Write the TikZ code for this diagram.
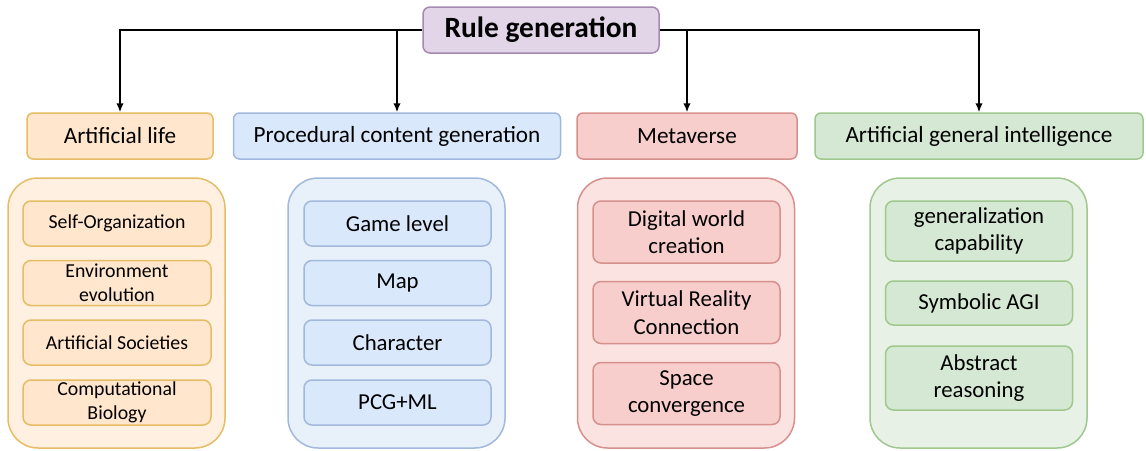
\documentclass[tikz,border=0pt]{standalone}
\usepackage{fontspec}
\setmainfont{Carlito}
\usepackage{tikz}
\usetikzlibrary{positioning}
\usetikzlibrary{arrows.meta}
\tikzset{>={Latex[width=7.5pt,length=9pt]}}

\definecolor{rgfill}{HTML}{E1D5E7}
\definecolor{rgline}{HTML}{A48AB2}
\definecolor{alfill}{HTML}{FFE6CC}
\definecolor{alline}{HTML}{E6BD64}
\definecolor{alback}{HTML}{FFF0E1}
\definecolor{pcgfill}{HTML}{DAE8FC}
\definecolor{pcgline}{HTML}{A2B8DC}
\definecolor{pcgback}{HTML}{E8F0FA}
\definecolor{mvfill}{HTML}{F8CECC}
\definecolor{mvline}{HTML}{D6908E}
\definecolor{mvback}{HTML}{FBE3E2}
\definecolor{agifill}{HTML}{D5E8D4}
\definecolor{agiline}{HTML}{A0C88E}
\definecolor{agiback}{HTML}{E7F1E5}

\begin{document}
\begin{tikzpicture}[x=1pt, y=1pt,
    topnode/.style={rectangle, rounded corners=7pt, draw=rgline, fill=rgfill, line width=1.5pt, minimum width=236pt, minimum height=46pt, font=\fontsize{29.4}{33}\selectfont\bfseries},
    catnode/.style={rectangle, rounded corners=6pt, line width=1.5pt, minimum height=46pt, inner sep=0pt, font=\fontsize{23.2}{27}\selectfont},
    backnode/.style={rectangle, rounded corners=30pt, line width=1.5pt, minimum width=217pt, minimum height=270pt},
    itemnode/.style={rectangle, rounded corners=8pt, line width=1.5pt, minimum width=187pt, inner sep=0pt, align=center, font=\fontsize{22.8}{27.5}\selectfont},
    alitem/.style={itemnode, draw=alline, fill=alfill, minimum height=45pt, font=\fontsize{19.8}{23.5}\selectfont},
    pcgitem/.style={itemnode, draw=pcgline, fill=pcgfill, minimum height=45pt},
    mvitem/.style={itemnode, draw=mvline, fill=mvfill, minimum height=62pt},
    agiitem/.style={itemnode, draw=agiline, fill=agifill}]

    \useasboundingbox (0,0) rectangle (1146,-450);

    %Nodes
    \node[topnode](rule) at (541,-30){Rule generation};
    \node[catnode, draw=alline, fill=alfill, minimum width=186pt](al) at (120,-136){Artificial life};
    \node[catnode, draw=pcgline, fill=pcgfill, minimum width=327pt](pcg) at (397,-136){Procedural content generation};
    \node[catnode, draw=mvline, fill=mvfill, minimum width=220pt](mv) at (687,-136){Metaverse};
    \node[catnode, draw=agiline, fill=agifill, minimum width=328pt](agi) at (979,-136){Artificial general intelligence};

    %Groups
    \node[backnode, draw=alline, fill=alback](al_back) at (116.5,-313){};
    \node[backnode, draw=pcgline, fill=pcgback](pcg_back) at (396.5,-313){};
    \node[backnode, draw=mvline, fill=mvback](mv_back) at (686,-313){};
    \node[backnode, draw=agiline, fill=agiback](agi_back) at (978.5,-313){};

    \node[alitem, minimum width=188pt](al_org) at (117,-223.5){Self-Organization};
    \node[alitem, minimum width=188pt](al_env)[below=13pt of al_org]{Environment\\evolution};
    \node[alitem, minimum width=188pt](al_soc)[below=13pt of al_env]{Artificial Societies};
    \node[alitem, minimum width=188pt](al_bio)[below=13.5pt of al_soc]{Computational\\Biology};

    \node[pcgitem](pcg_level) at (397.5,-223.5){Game level};
    \node[pcgitem](pcg_map)[below=13pt of pcg_level]{Map};
    \node[pcgitem](pcg_char)[below=13pt of pcg_map]{Character};
    \node[pcgitem](pcg_ml)[below=13.5pt of pcg_char]{PCG+ML};

    \node[mvitem](mv_world) at (686.5,-232){Digital world\\creation};
    \node[mvitem](mv_vr)[below=17pt of mv_world]{Virtual Reality\\Connection};
    \node[mvitem](mv_space)[below=17.5pt of mv_vr]{Space\\convergence};

    \node[agiitem, minimum height=60pt](agi_gen) at (979,-231){generalization\\capability};
    \node[agiitem, minimum height=44pt](agi_sym)[below=18.5pt of agi_gen]{Symbolic AGI};
    \node[agiitem, minimum height=64pt](agi_abs)[below=19.5pt of agi_sym]{Abstract\\reasoning};

    %Lines
    \draw[->, line width=1.6pt] (rule.west) -| (al.north);
    \draw[->, line width=1.6pt] (rule.west -| pcg.north) -- (pcg.north);
    \draw[->, line width=1.6pt] (rule.east) -| (agi.north);
    \draw[->, line width=1.6pt] (rule.east -| mv.north) -- (mv.north);

\end{tikzpicture}
\end{document}
